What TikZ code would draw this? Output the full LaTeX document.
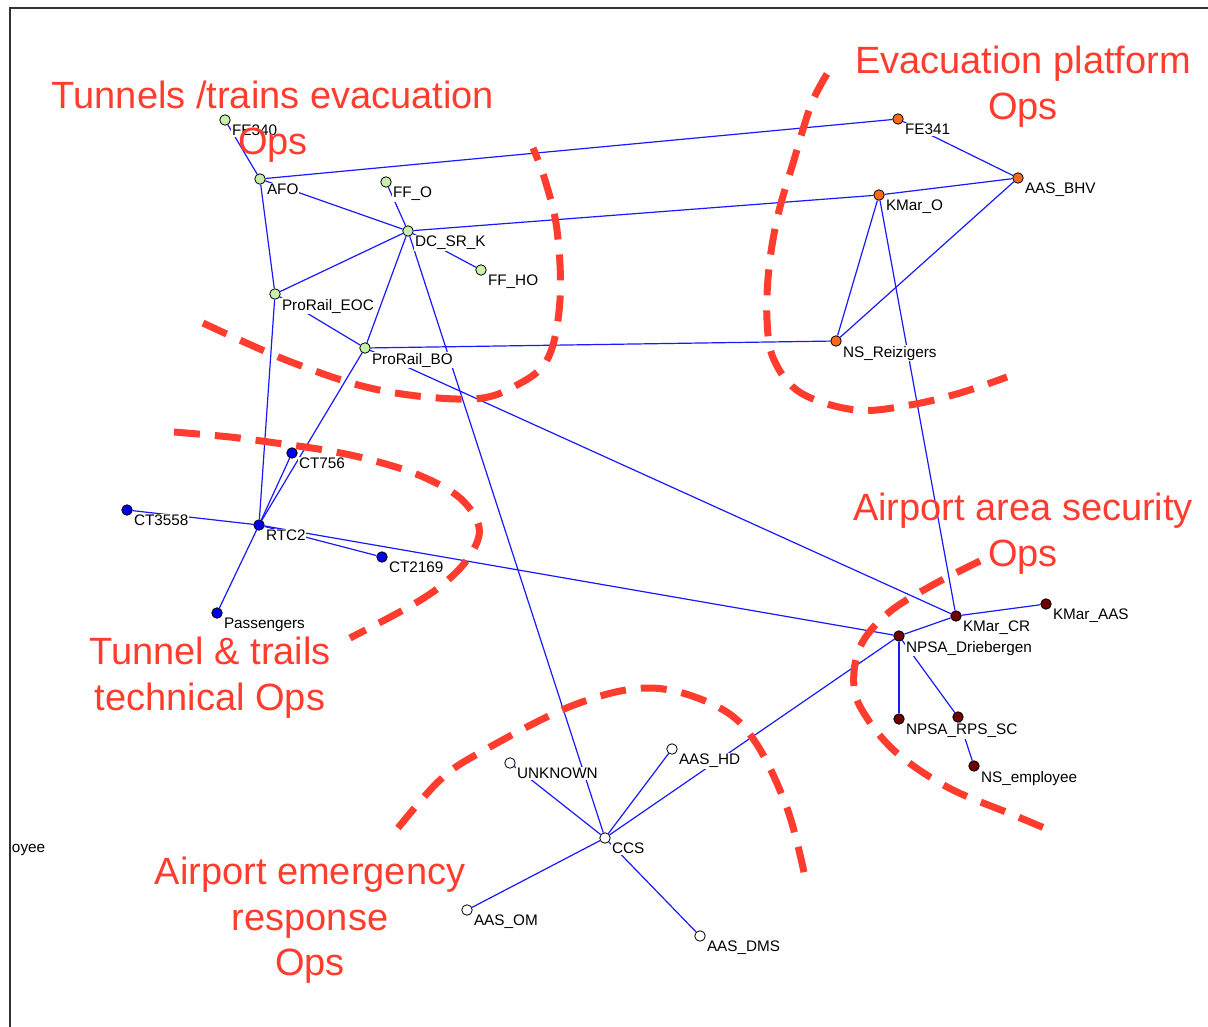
\documentclass[tikz,border=0pt]{standalone}
\usepackage{fontspec}
\setmainfont{Liberation Sans}
\pgfdeclarelayer{back}
\pgfdeclarelayer{links}
\pgfsetlayers{back,links,main}
\definecolor{linkblue}{RGB}{25,25,255}
\definecolor{zonered}{RGB}{255,60,45}
\definecolor{grpgreen}{RGB}{200,240,170}
\definecolor{grporange}{RGB}{255,105,30}
\definecolor{grpblue}{RGB}{0,0,230}
\definecolor{grpmaroon}{RGB}{110,0,0}
\definecolor{grpwhite}{RGB}{255,255,255}
% actor: name, x, y, fill colour
\newcommand\actor[4]{\node[mk,fill=#4] (#1) at (#2,#3) {};}
% caption of an actor: name, x, y, text
\newcommand\actorname[4]{\node[lbl] (#1-name) at (#2+6,#3+4) {#4};}
\begin{document}
\begin{tikzpicture}[x=1pt,y=-1pt,
  mk/.style={circle,draw=black,line width=0.8pt,minimum size=10.5pt,inner sep=0pt},
  lbl/.style={anchor=north west,fill=white,inner sep=0.8pt,font=\fontsize{15.3}{16}\selectfont},
  link/.style={draw=linkblue,line width=1.2pt},
  zone/.style={draw=zonered,line width=7pt,dash pattern=on 26pt off 15pt},
  zonetitle/.style={text=zonered,align=center,anchor=north,inner sep=0pt,
    font=\fontsize{38}{45.5}\selectfont},
  frameline/.style={draw=black!80,line width=2pt}]

\useasboundingbox (0,0) rectangle (1208,1027);
\begin{pgfonlayer}{back}
  \fill[white] (0,0) rectangle (1208,1027);
  \draw[frameline] (1208,8) -- (9.5,8) -- (9.5,1027);
\end{pgfonlayer}

% captions (white boxes hide the links beneath them)
\actorname{fe340}{225}{120}{FE340}
\actorname{afo}{260}{179}{AFO}
\actorname{ffo}{386}{182}{FF\_O}
\actorname{dcsrk}{408}{231}{DC\_SR\_K}
\actorname{ffho}{481}{270}{FF\_HO}
\actorname{eoc}{275}{294}{ProRail\_EOC}
\actorname{bo}{365}{348}{ProRail\_BO}
\actorname{fe341}{898}{119}{FE341}
\actorname{aasbhv}{1018}{178}{AAS\_BHV}
\actorname{kmaro}{879}{195}{KMar\_O}
\actorname{nsr}{836}{341}{NS\_Reizigers}
\actorname{ct756}{292}{453}{CT756}
\actorname{ct3558}{127}{510}{CT3558}
\actorname{rtc2}{259}{525}{RTC2}
\actorname{ct2169}{382}{557}{CT2169}
\actorname{pass}{217}{613}{Passengers}
\actorname{kmarcr}{956}{616}{KMar\_CR}
\actorname{kmaraas}{1046}{604}{KMar\_AAS}
\actorname{npsad}{899}{636}{NPSA\_Driebergen}
\actorname{npsarps}{899}{719}{NPSA\_RPS\_SC}
\actorname{nsemp}{974}{766}{NS\_employee}
\actorname{aashd}{672}{749}{AAS\_HD}
\actorname{unknown}{510}{763}{UNKNOWN}
\actorname{ccs}{605}{838}{CCS}
\actorname{aasom}{467}{910}{AAS\_OM}
\actorname{aasdms}{700}{936}{AAS\_DMS}
\node[lbl,anchor=west] (cut-name) at (11,850) {oyee};

% actors
\actor{fe340}{225}{120}{grpgreen}
\actor{afo}{260}{179}{grpgreen}
\actor{ffo}{386}{182}{grpgreen}
\actor{dcsrk}{408}{231}{grpgreen}
\actor{ffho}{481}{270}{grpgreen}
\actor{eoc}{275}{294}{grpgreen}
\actor{bo}{365}{348}{grpgreen}
\actor{fe341}{898}{119}{grporange}
\actor{aasbhv}{1018}{178}{grporange}
\actor{kmaro}{879}{195}{grporange}
\actor{nsr}{836}{341}{grporange}
\actor{ct756}{292}{453}{grpblue}
\actor{ct3558}{127}{510}{grpblue}
\actor{rtc2}{259}{525}{grpblue}
\actor{ct2169}{382}{557}{grpblue}
\actor{pass}{217}{613}{grpblue}
\actor{kmarcr}{956}{616}{grpmaroon}
\actor{kmaraas}{1046}{604}{grpmaroon}
\actor{npsad}{899}{636}{grpmaroon}
\actor{npsarps}{899}{719}{grpmaroon}
\actor{npsasc}{958}{717}{grpmaroon}
\actor{nsemp}{974}{766}{grpmaroon}
\actor{aashd}{672}{749}{grpwhite}
\actor{unknown}{510}{763}{grpwhite}
\actor{ccs}{605}{838}{grpwhite}
\actor{aasom}{467}{910}{grpwhite}
\actor{aasdms}{700}{936}{grpwhite}

% links
\begin{pgfonlayer}{links}
\foreach \a/\b in {fe340/afo, afo/fe341, afo/dcsrk, afo/eoc, eoc/rtc2, eoc/dcsrk,
  eoc/bo, ffo/dcsrk, dcsrk/ffho, dcsrk/kmaro, dcsrk/bo, dcsrk/ccs, bo/rtc2,
  bo/nsr, bo/kmarcr, fe341/aasbhv, kmaro/aasbhv, kmaro/nsr, aasbhv/nsr,
  kmaro/kmarcr, ct756/rtc2, ct3558/rtc2, rtc2/ct2169, rtc2/pass, rtc2/npsad,
  kmarcr/kmaraas, kmarcr/npsad, npsad/npsarps, npsad/npsasc, npsasc/nsemp,
  npsad/ccs, ccs/unknown, ccs/aashd, ccs/aasom, ccs/aasdms}
  \draw[link] (\a) -- (\b);
\end{pgfonlayer}

% operational zones
\draw[zone] plot[smooth,tension=0.6] coordinates {(203,323) (291,362) (379,390)
  (471,399) (517,385) (548,358) (560,300) (557,230) (545,180) (533,148)};
\draw[zone] plot[smooth,tension=0.6] coordinates {(827,74) (811,105) (794,160)
  (778,215) (769,268) (767,320) (774,360) (801,393) (856,410) (910,405)
  (960,393) (1007,377)};
\draw[zone] plot[smooth,tension=0.6] coordinates {(174,432) (230,437) (276,443)
  (330,451) (375,461) (421,476) (460,498) (479,527) (471,554) (448,580)
  (414,604) (350,638)};
\draw[zone] plot[smooth,tension=0.6] coordinates {(980,561) (929,587) (887,614)
  (860,647) (854,687) (867,718) (898,754) (949,788) (1011,814) (1054,832)};
\draw[zone] plot[smooth,tension=0.6] coordinates {(398,828) (440,780) (481,752)
  (574,705) (650,688) (716,706) (754,740) (787,808) (805,877)};

\node[zonetitle] (z-tunnels) at (273,81) {Tunnels /trains evacuation\\Ops};
\node[zonetitle] (z-platform) at (1023,46) {Evacuation platform\\Ops};
\node[zonetitle] (z-security) at (1023,493) {Airport area security\\Ops};
\node[zonetitle] (z-technical) at (210,637) {Tunnel \& trails\\technical Ops};
\node[zonetitle] (z-emergency) at (310,857) {Airport emergency\\response\\Ops};
\end{tikzpicture}
\end{document}
